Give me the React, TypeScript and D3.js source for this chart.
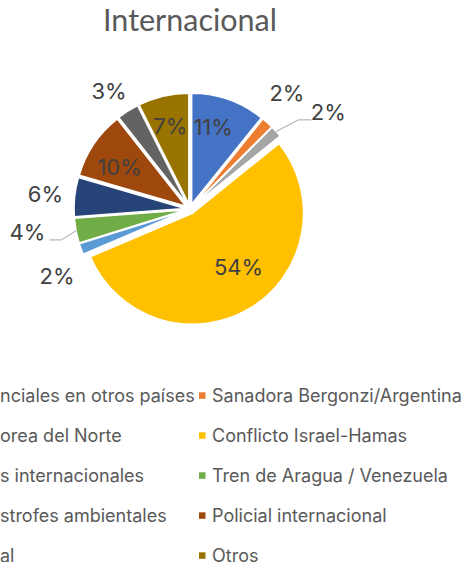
import React from "react";
import * as d3 from "d3";

// Categories as visible in the (cropped) picture
const categories = [
  "nciales en otros países",
  "Sanadora Bergonzi/Argentina",
  "orea del Norte",
  "Conflicto Israel-Hamas",
  "s internacionales",
  "Tren de Aragua / Venezuela",
  "strofes ambientales",
  "Policial internacional",
  "al",
  "Otros",
];
const values = [10.8, 1.7, 1.7, 54.4, 1.6, 3.6, 5.7, 9.9, 3.2, 7.4];
const colors = [
  "#4472C4", "#ED7D31", "#A5A5A5", "#FFC000", "#5B9BD5",
  "#70AD47", "#264478", "#9E480E", "#636363", "#997300",
];
const title = "Internacional";

// label layout: radius factor, angle tweak (deg), leader line
const labelLayout = [
  { k: 0.77, da: -3.7 },
  { k: 1.36, da: -2 },
  { k: 1.52, da: 7, leader: "right" },
  { k: 0.68, da: -9 },
  { k: 1.34, da: -6.5 },
  { k: 1.48, da: 2.6, leader: "left" },
  { k: 1.31, da: 0 },
  { k: 0.74, da: -3 },
  { k: 1.29, da: -2 },
  { k: 0.77, da: 0 },
];

export default function App() {
  const W = 465, H = 562;
  const cx = 190, cy = 209, r = 111, explode = 5;
  const total = d3.sum(values);
  const pie = d3.pie<number>().sort(null).value((d) => d);
  const arcs = pie(values);
  const arc = d3.arc<d3.PieArcDatum<number>>().innerRadius(0).outerRadius(r);
  const fmt = d3.format(".0%");
  const font = "Inter, 'DejaVu Sans', sans-serif";

  const ly = d3.scaleLinear().domain([0, 1]).range([395.5, 435.5]);
  const lx = [-8, 199];

  return (
    <svg width={W} height={H} style={{ position: "absolute", left: 0, top: 0 }} xmlns="http://www.w3.org/2000/svg">
      <rect width={W} height={H} fill="#ffffff" />
      <text x={190} y={31} textAnchor="middle" fontFamily="Lato, 'Open Sans', sans-serif" fontSize={30.5} fill="#595959">{title}</text>
      <g transform={`translate(${cx},${cy})`}>
        {arcs.map((a, i) => {
          const mid = (a.startAngle + a.endAngle) / 2;
          const dx = explode * Math.sin(mid), dy = -explode * Math.cos(mid);
          return (
            <path key={i} d={arc(a) || ""} transform={`translate(${dx},${dy})`} fill={colors[i]} stroke="#ffffff" strokeWidth={1.5} strokeLinejoin="round" />
          );
        })}
        {arcs.map((a, i) => {
          const mid = (a.startAngle + a.endAngle) / 2;
          const L = labelLayout[i];
          const ang = mid + (L.da * Math.PI) / 180;
          const lxp = L.k * r * Math.sin(ang), lyp = -L.k * r * Math.cos(ang);
          const txt = fmt(values[i] / total);
          let leader = null;
          if (L.leader) {
            const ex = (r + explode) * Math.sin(mid), ey = -(r + explode) * Math.cos(mid);
            const half = 15;
            const sideX = L.leader === "right" ? lxp - half - 2 : lxp + half + 7;
            const elbowX = L.leader === "right" ? sideX - 13 : sideX + 12;
            const yy = lyp + 7.5;
            leader = (
              <polyline points={`${ex},${ey} ${elbowX},${yy} ${sideX},${yy}`} fill="none" stroke="#A6A6A6" strokeWidth={1} />
            );
          }
          return (
            <g key={"l" + i}>
              {leader}
              <text x={lxp} y={lyp} textAnchor="middle" dominantBaseline="central" fontFamily={font} fontSize={22} fill="#404040">{txt}</text>
            </g>
          );
        })}
      </g>
      <g>
        {categories.map((c, i) => {
          const row = Math.floor(i / 2), col = i % 2;
          const y = ly(row);
          return (
            <g key={"lg" + i}>
              <rect x={lx[col]} y={y - 3.2} width={6.5} height={6.5} fill={colors[i]} />
              <text x={col === 0 ? 0 : lx[col] + 13} y={y} dominantBaseline="central" fontFamily={font} fontSize={18} fill="#595959">{c}</text>
            </g>
          );
        })}
      </g>
    </svg>
  );
}
